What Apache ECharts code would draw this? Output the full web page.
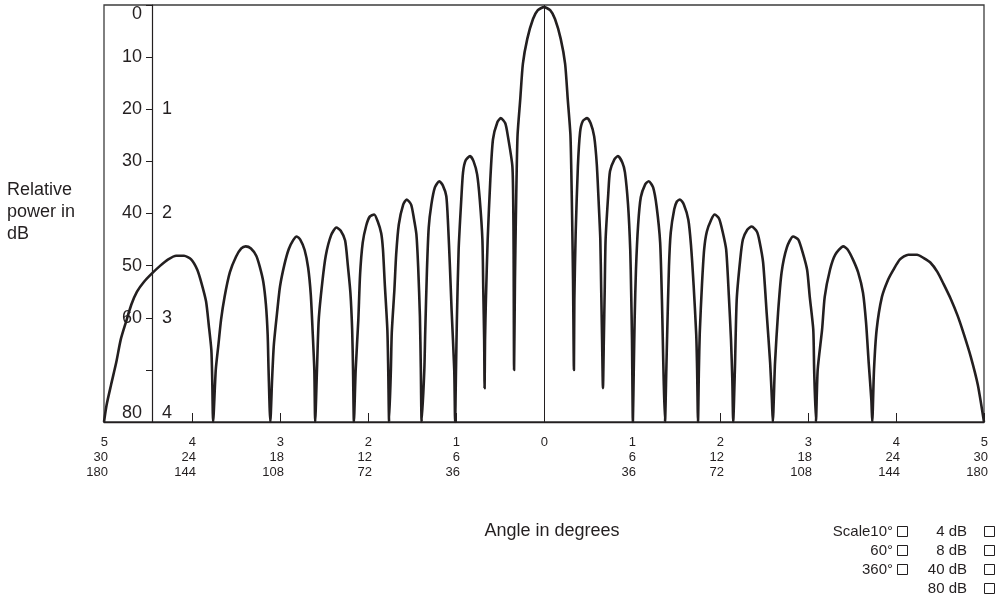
<!DOCTYPE html>
<html>
<head>
<meta charset="utf-8">
<script src="https://cdn.jsdelivr.net/npm/echarts@6.0.0/dist/echarts.min.js"></script>
<style>
  html, body { margin: 0; padding: 0; background: #fff; }
  #chart { width: 1001px; height: 606px; }
</style>
</head>
<body>
<div id="chart"></div>
<script>
// beam pattern (angle in scale units, level in dB below peak)
var patternAngle = [
  -5, -4.97, -4.92, -4.86, -4.81, -4.75, -4.69, -4.625, -4.545, -4.455, -4.36, -4.27, -4.18, -4.09, -4.01, -3.94, -3.89, -3.84, -3.81, -3.78, -3.77, -3.76,
  -3.73, -3.70, -3.67, -3.63, -3.57, -3.50, -3.44, -3.39, -3.33, -3.27, -3.23, -3.19, -3.16, -3.14, -3.13, -3.11,
  -3.09, -3.07, -3.03, -3.00, -2.95, -2.90, -2.85, -2.81, -2.77, -2.72, -2.68, -2.65, -2.63, -2.61, -2.60,
  -2.58, -2.56, -2.52, -2.48, -2.42, -2.36, -2.31, -2.26, -2.23, -2.20, -2.18, -2.17, -2.16,
  -2.14, -2.11, -2.09, -2.06, -2.02, -1.98, -1.93, -1.89, -1.85, -1.83, -1.81, -1.78, -1.77, -1.76,
  -1.74, -1.73, -1.70, -1.68, -1.65, -1.60, -1.56, -1.51, -1.48, -1.45, -1.43, -1.41, -1.40, -1.39,
  -1.36, -1.35, -1.33, -1.31, -1.28, -1.24, -1.19, -1.15, -1.11, -1.09, -1.07, -1.05, -1.02, -1.01,
  -1.00, -0.99, -0.97, -0.94, -0.92, -0.89, -0.84, -0.80, -0.76, -0.73, -0.70, -0.69, -0.68, -0.675,
  -0.67, -0.66, -0.64, -0.61, -0.58, -0.53, -0.49, -0.44, -0.41, -0.36, -0.35, -0.345, -0.34,
  -0.33, -0.32, -0.31, -0.30, -0.27, -0.24, -0.19, -0.125, -0.07, 0, 0.07, 0.125, 0.19, 0.24, 0.27, 0.30, 0.31, 0.32, 0.33, 0.34,
  0.345, 0.36, 0.385, 0.41, 0.44, 0.49, 0.53, 0.57, 0.60, 0.625, 0.64, 0.65, 0.66, 0.67,
  0.68, 0.69, 0.70, 0.73, 0.75, 0.80, 0.84, 0.89, 0.92, 0.955, 0.98, 0.99, 1.00, 1.01,
  1.02, 1.03, 1.045, 1.07, 1.10, 1.15, 1.19, 1.24, 1.28, 1.32, 1.34, 1.35, 1.36, 1.375,
  1.39, 1.40, 1.42, 1.44, 1.48, 1.51, 1.545, 1.59, 1.64, 1.67, 1.70, 1.73, 1.74, 1.75,
  1.76, 1.77, 1.795, 1.82, 1.85, 1.90, 1.94, 1.99, 2.03, 2.07, 2.10, 2.125, 2.14, 2.15,
  2.17, 2.19, 2.23, 2.26, 2.31, 2.36, 2.42, 2.45, 2.49, 2.53, 2.57, 2.59, 2.60,
  2.625, 2.66, 2.70, 2.76, 2.83, 2.89, 2.94, 2.99, 3.02, 3.06, 3.07, 3.09,
  3.11, 3.16, 3.19, 3.25, 3.31, 3.40, 3.45, 3.51, 3.57, 3.625, 3.66, 3.69, 3.72, 3.73,
  3.75, 3.78, 3.84, 3.91, 3.97, 4.045, 4.14, 4.24, 4.31, 4.39, 4.47, 4.54, 4.62, 4.70, 4.77, 4.85, 4.93, 5.00
];
var patternDb = [
  80, 76.7, 72.9, 68.5, 64.2, 60.8, 57.5, 55.0, 53.1, 51.5, 50.0, 48.8, 48.1, 48.1, 48.8, 50.8, 53.5, 56.9, 61.3, 66.2, 71.9, 80,
  70, 65.2, 60.4, 56.0, 51.3, 48.3, 46.7, 46.3, 46.7, 48.1, 50.2, 53.1, 57.5, 63.3, 70, 80,
  71.9, 65.2, 58.5, 54.0, 49.8, 46.8, 45.1, 44.4, 45.0, 47.0, 50.4, 55.6, 62.3, 70, 80,
  70, 60.4, 53.3, 48.1, 44.2, 42.7, 43.3, 45.2, 49.8, 55.2, 62.3, 70, 80,
  70, 60.4, 51.7, 45.6, 42.3, 40.6, 40.2, 41.5, 43.8, 46.9, 53.3, 62.3, 70, 80,
  70, 62.9, 54.6, 47.9, 42.1, 38.3, 37.3, 38.3, 40.8, 44.0, 50.2, 59.8, 69.4, 80,
  70, 62.9, 50.8, 42.7, 38.3, 35.0, 33.8, 34.6, 36.7, 42.1, 49.8, 58.5, 70, 80,
  70, 60.4, 46.9, 37.3, 32.1, 29.8, 29.0, 30.0, 32.5, 37.3, 45.0, 54.6, 64.2, 73.5,
  64.2, 56.5, 45.0, 33.5, 25.8, 22.5, 21.7, 22.7, 25.2, 30.8, 37.3, 48, 70,
  52.7, 41.2, 31.5, 24.8, 18.1, 11.3, 6.5, 2.7, 1.0, 0.4, 1.0, 2.7, 6.5, 11.3, 18.1, 24.8, 31.5, 41.2, 52.7, 70,
  56.5, 43.7, 31.0, 24.4, 22.3, 21.7, 22.7, 25.2, 30.6, 39.2, 45.0, 54.6, 64.2, 73.5,
  64.2, 54.6, 45.0, 36.3, 31.9, 29.6, 29.0, 30.2, 32.1, 38.3, 46.9, 54.6, 64.2, 80,
  70, 60.4, 50.8, 42.1, 36.9, 34.4, 33.8, 35.0, 38.7, 45.6, 56.5, 64.2, 71.9, 80,
  70, 62.9, 50.2, 43.7, 39.2, 37.7, 37.3, 38.3, 41.2, 46.0, 53.7, 63.3, 70, 80,
  70, 62.9, 53.7, 46.9, 43.5, 41.2, 40.2, 41.0, 43.5, 46.9, 55.6, 64.2, 71.9, 80,
  69.4, 56.5, 48.8, 45.0, 43.1, 42.5, 43.5, 45.4, 49.4, 59.0, 68.7, 75.8, 80,
  68.7, 59.0, 51.3, 46.5, 44.4, 45.0, 47.5, 50.8, 56.0, 62.3, 70, 80,
  70, 62.3, 56.0, 50.8, 47.9, 46.3, 46.9, 48.8, 51.3, 55.2, 61.0, 68.7, 75.8, 80,
  70, 62.3, 56.0, 52.7, 50.8, 48.8, 47.9, 47.9, 48.5, 49.4, 51.2, 53.5, 56.3, 59.6, 63.1, 67.5, 72.9, 80
];

// x tick labels, three scales stacked under each tick (-5 .. 5)
var xRowA = ['5', '4', '3', '2', '1', '0', '1', '2', '3', '4', '5'];
var xRowB = ['30', '24', '18', '12', '6', '', '6', '12', '18', '24', '30'];
var xRowC = ['180', '144', '108', '72', '36', '', '36', '72', '108', '144', '180'];

// second dB scale written on the inner side of the axis
var innerScaleAt = [20, 40, 60, 80];
var innerScaleText = ['1', '2', '3', '4'];

// scale keys at the bottom right
var scaleKeys = ['Scale10°', '60°', '360°'];
var dbKeys = ['4 dB', '8 dB', '40 dB', '80 dB'];

var ink = '#231f20';
var fam = '"Liberation Sans", Arial, Helvetica, sans-serif';

var chart = echarts.init(document.getElementById('chart'));

var seriesData = patternAngle.map(function (a, i) { return [a, patternDb[i]]; });

var graphics = [
  { type: 'text', x: 7, y: 179, style: { text: 'Relative\npower in\ndB', font: '18px ' + fam, fill: ink, lineHeight: 22, align: 'left', verticalAlign: 'top' } },
  { type: 'text', x: 552, y: 531, style: { text: 'Angle in degrees', font: '18px ' + fam, fill: ink, align: 'center', verticalAlign: 'middle' } }
];
var keyRowY = [532, 551, 570, 589];
scaleKeys.forEach(function (t, i) {
  graphics.push({ type: 'text', x: 893, y: keyRowY[i], style: { text: t, font: '15px ' + fam, fill: ink, align: 'right', verticalAlign: 'middle' } });
  graphics.push({ type: 'rect', shape: { x: 897.5, y: keyRowY[i] - 5.5, width: 10, height: 10 }, style: { fill: 'none', stroke: ink, lineWidth: 1 } });
});
dbKeys.forEach(function (t, i) {
  graphics.push({ type: 'text', x: 967, y: keyRowY[i], style: { text: t, font: '15px ' + fam, fill: ink, align: 'right', verticalAlign: 'middle' } });
  graphics.push({ type: 'rect', shape: { x: 984.5, y: keyRowY[i] - 5.5, width: 10, height: 10 }, style: { fill: 'none', stroke: ink, lineWidth: 1 } });
});

var option = {
  animation: false,
  backgroundColor: '#fff',
  grid: {
    left: 104, right: 17, top: 5, bottom: 184,
    show: true, borderColor: '#3c3c3c', borderWidth: 1.3,
    outerBoundsMode: 'none'
  },
  xAxis: {
    type: 'value', min: -5, max: 5, interval: 1,
    axisLine: { show: true, onZero: false, lineStyle: { color: ink, width: 1.3 } },
    axisTick: { show: true, inside: true, length: 9, lineStyle: { color: ink, width: 1 } },
    splitLine: { show: false },
    axisLabel: {
      margin: 13, fontSize: 13, lineHeight: 15, color: ink, fontFamily: fam,
      align: 'right', padding: [0, -4, 0, 0],
      formatter: function (v) {
        var i = Math.round(v) + 5;
        return [xRowA[i], xRowB[i], xRowC[i]].filter(function (s) { return s !== ''; }).join('\n');
      }
    }
  },
  yAxis: [{
    type: 'value', min: 0, max: 80, interval: 10, inverse: true,
    position: 'left', offset: -48,
    axisLine: { show: true, onZero: false, lineStyle: { color: ink, width: 1.2 } },
    axisTick: { show: true, inside: false, length: 6, lineStyle: { color: ink, width: 1 } },
    splitLine: { show: false },
    axisLabel: {
      margin: 10, fontSize: 18, color: ink, fontFamily: fam,
      verticalAlignMinLabel: 'top', verticalAlignMaxLabel: 'bottom',
      formatter: function (v) { return v === 70 ? '' : String(v); }
    }
  }, {
    type: 'value', min: 0, max: 80, interval: 10, inverse: true,
    position: 'left', offset: -48,
    axisLine: { show: false, onZero: false }, axisTick: { show: false }, splitLine: { show: false },
    axisLabel: {
      inside: true, margin: 10, fontSize: 18, color: ink, fontFamily: fam,
      verticalAlignMaxLabel: 'bottom',
      formatter: function (v) {
        var k = innerScaleAt.indexOf(v);
        return k < 0 ? '' : innerScaleText[k];
      }
    }
  }],
  graphic: graphics,
  series: [{
    type: 'line',
    xAxisIndex: 0, yAxisIndex: 0,
    data: seriesData,
    symbol: 'none',
    smooth: 0.22,
    clip: true,
    lineStyle: { color: ink, width: 2.6, join: 'round' },
    itemStyle: { color: ink },
    markLine: {
      silent: true, symbol: ['none', 'none'],
      label: { show: false },
      lineStyle: { color: ink, width: 1, type: 'solid' },
      data: [{ xAxis: 0 }]
    }
  }]
};

chart.setOption(option);
</script>
</body>
</html>
